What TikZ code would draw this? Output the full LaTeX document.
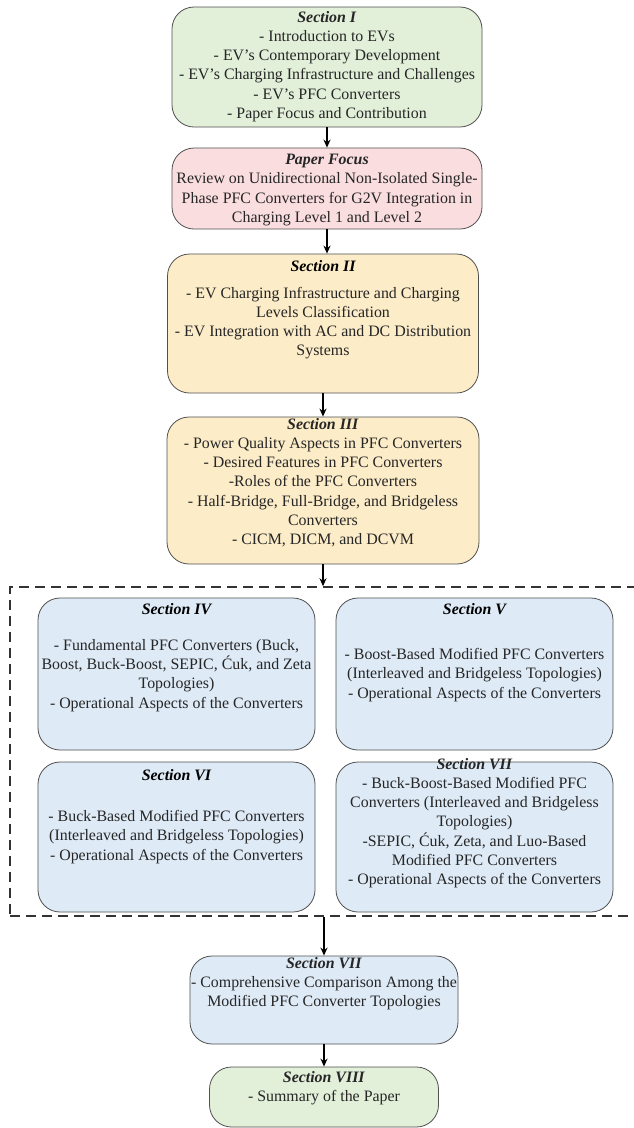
\documentclass[tikz,border=0pt]{standalone}
\usepackage{fontspec}
\setmainfont{Liberation Serif}
\usetikzlibrary{arrows.meta}
\definecolor{cgreen}{RGB}{226,239,217}
\definecolor{cpink}{RGB}{250,221,223}
\definecolor{ctan}{RGB}{252,236,200}
\definecolor{cblue}{RGB}{222,234,246}
\definecolor{cborder}{RGB}{80,80,80}
\begin{document}
\begin{tikzpicture}[x=1pt,y=-1pt,
  box/.style={draw=cborder, line width=0.8pt, rounded corners=22pt, inner sep=0pt},
  txt/.style={align=center, font=\fontsize{15.9}{19.2}\selectfont, inner sep=0pt, text=black!85},
  ttl/.style={font=\fontsize{15.9}{19.2}\selectfont\bfseries\itshape, inner sep=0pt},
  arr/.style={-{Stealth[length=8pt,width=7pt]}, line width=1.7pt},
  grpbox/.style={draw=black!80, line width=1.5pt, dash pattern=on 10pt off 6pt, inner sep=0pt},
]
\useasboundingbox (0,0) rectangle (634,1128);

% Section I
\node[box, fill=cgreen, minimum width=310pt, minimum height=120pt] (s1) at (327,67) {};
\node[txt] (t1) at (327,66.5) {\textbf{\textit{Section I}}\\- Introduction to EVs\\- EV's Contemporary Development\\- EV's Charging Infrastructure and Challenges\\- EV's PFC Converters\\- Paper Focus and Contribution};

% Paper focus
\node[box, fill=cpink, minimum width=310pt, minimum height=81pt] (pf) at (327,188.5) {};
\node[txt] (tpf) at (327,190) {\textbf{\textit{Paper Focus}}\\Review on Unidirectional Non-Isolated Single-\\Phase PFC Converters for G2V Integration in\\Charging Level 1 and Level 2};

% Section II
\node[box, fill=ctan, minimum width=311pt, minimum height=139pt] (s2) at (323,323.5) {};
\node[ttl] (h2) at (323,266) {Section II};
\node[txt] (t2) at (323,323) {- EV Charging Infrastructure and Charging\\Levels Classification\\- EV Integration with AC and DC Distribution\\Systems};

% Section III
\node[box, fill=ctan, minimum width=312pt, minimum height=147pt] (s3) at (323,490.5) {};
\node[txt] (t3) at (323,482.5) {\textbf{\textit{Section III}}\\- Power Quality Aspects in PFC Converters\\- Desired Features in PFC Converters\\-Roles of the PFC Converters\\- Half-Bridge, Full-Bridge, and Bridgeless\\Converters\\- CICM, DICM, and DCVM};

% group
\node[grpbox, minimum width=645pt, minimum height=329pt] (grp) at (332.5,751.5) {};

% Section IV
\node[box, fill=cblue, minimum width=277pt, minimum height=152pt] (s4) at (176.5,674) {};
\node[ttl] (h4) at (176.5,609) {Section IV};
\node[txt] (t4) at (176.5,675.5) {- Fundamental PFC Converters (Buck,\\Boost, Buck-Boost, SEPIC, Ćuk, and Zeta\\Topologies)\\- Operational Aspects of the Converters};

% Section V
\node[box, fill=cblue, minimum width=277pt, minimum height=152pt] (s5) at (474.5,674) {};
\node[ttl] (h5) at (474.5,609) {Section V};
\node[txt] (t5) at (474.5,675) {- Boost-Based Modified PFC Converters\\(Interleaved and Bridgeless Topologies)\\- Operational Aspects of the Converters};

% Section VI
\node[box, fill=cblue, minimum width=277pt, minimum height=150pt] (s6) at (176.5,837) {};
\node[ttl] (h6) at (176.5,775) {Section VI};
\node[txt] (t6) at (176.5,837) {- Buck-Based Modified PFC Converters\\(Interleaved and Bridgeless Topologies)\\- Operational Aspects of the Converters};

% Section VII (right)
\node[box, fill=cblue, minimum width=277pt, minimum height=150pt] (s7r) at (474.5,837) {};
\node[txt] (t7r) at (474.5,823) {\textbf{\textit{Section VII}}\\- Buck-Boost-Based Modified PFC\\Converters (Interleaved and Bridgeless\\Topologies)\\-SEPIC, Ćuk, Zeta, and Luo-Based\\Modified PFC Converters\\- Operational Aspects of the Converters};

% Section VII (bottom)
\node[box, fill=cblue, minimum width=268pt, minimum height=88pt] (s7b) at (324,1000) {};
\node[txt] (t7b) at (324,983.5) {\textbf{\textit{Section VII}}\\- Comprehensive Comparison Among the\\Modified PFC Converter Topologies};

% Section VIII
\node[box, fill=cgreen, minimum width=229pt, minimum height=60pt] (s8) at (324,1097) {};
\node[txt] (t8) at (324,1088) {\textbf{\textit{Section VIII}}\\- Summary of the Paper};

% arrows
\draw[arr] (s1.south) -- (pf.north);
\draw[arr] (pf.south) -- (pf.south |- s2.north);
\draw[arr] (s2.south) -- (s3.north);
\draw[arr] (s3.south) -- (s3.south |- grp.north);
\draw[arr] (grp.south -| s7b.north) -- (s7b.north);
\draw[arr] (s7b.south) -- (s8.north);
\end{tikzpicture}
\end{document}
